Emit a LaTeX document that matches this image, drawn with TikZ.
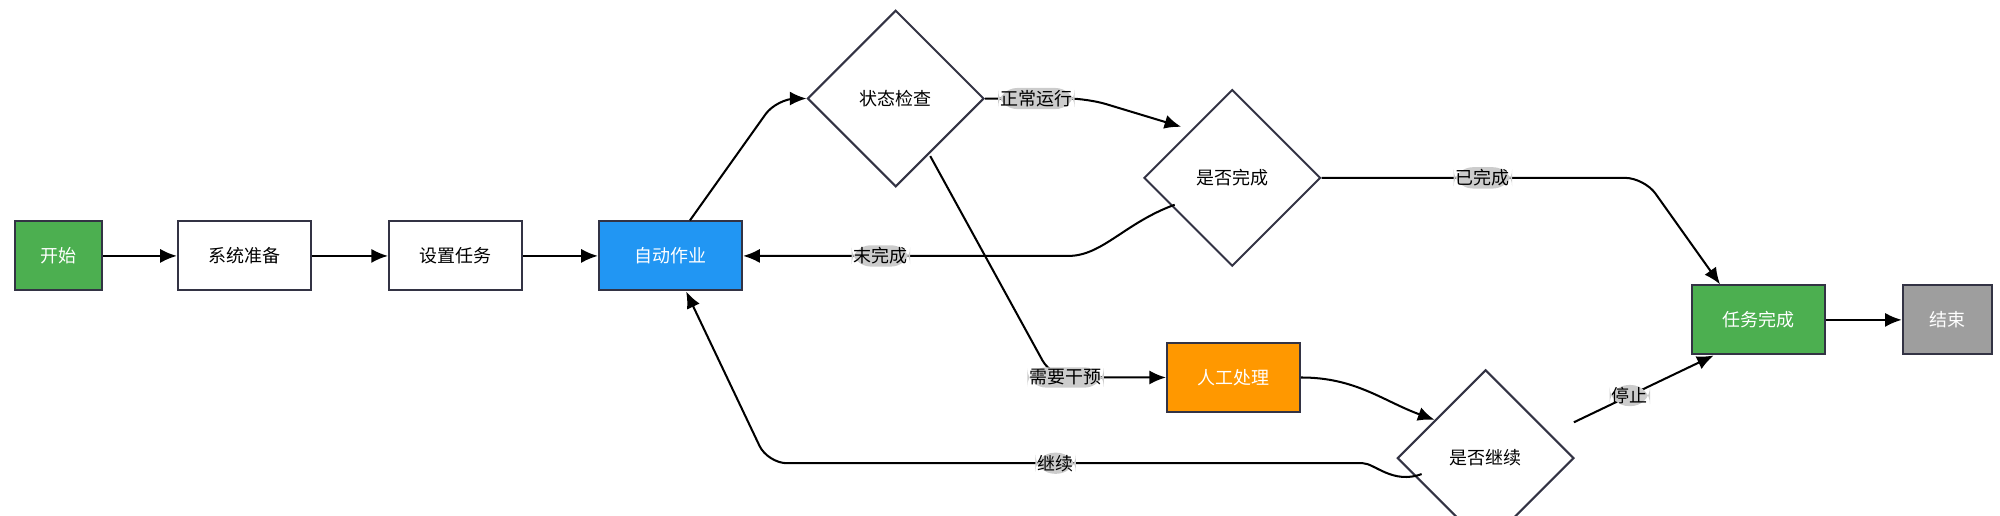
\documentclass[tikz,border=0pt]{standalone}
\usepackage{fontspec}
\setmainfont{Noto Sans CJK SC}
\usetikzlibrary{positioning,arrows.meta,shapes.geometric}

\definecolor{startgreen}{HTML}{4CAF50}
\definecolor{autoblue}{HTML}{2196F3}
\definecolor{manorange}{HTML}{FF9800}
\definecolor{endgrey}{HTML}{9E9E9E}
\definecolor{lblgrey}{HTML}{CCCCCC}
\definecolor{edgecol}{HTML}{333344}

\tikzset{
  box/.style={draw=edgecol, line width=0.9pt, rectangle, minimum height=1.08cm, minimum width=2.08cm, fill=white},
  dec/.style={draw=edgecol, line width=0.9pt, diamond, minimum width=2.76cm, minimum height=2.76cm, inner sep=0pt, fill=white},
  flow/.style={->, line width=0.9pt, rounded corners=0.3cm},
  lbl/.style={fill=lblgrey, inner sep=1pt}
}

\begin{document}
\begin{tikzpicture}[x=0.02cm, y=-0.02cm, >={Latex[length=2.6mm,width=2.2mm]}, font=\fontsize{8}{10}\selectfont]
\useasboundingbox (0,0) rectangle (1563,403);

% Nodes
\node[box, fill=startgreen, text=white, minimum width=1.36cm] (start) at (46,200) {开始};
\node[box] (prep) at (191,200) {系统准备};
\node[box] (task) at (356,200) {设置任务};
\node[box, fill=autoblue, text=white, minimum width=2.24cm] (auto) at (524,200) {自动作业};
\node[dec] (check) at (700,77) {状态检查};
\node[dec] (done) at (963,139) {是否完成};
\node[box, fill=manorange, text=white] (manual) at (964,295) {人工处理};
\node[dec] (cont) at (1161,358) {是否继续};
\node[box, fill=startgreen, text=white] (fin) at (1374,250) {任务完成};
\node[box, fill=endgrey, text=white, minimum width=1.4cm] (stop) at (1522,250) {结束};

% Coordinates for bends
\coordinate (c1) at (607,77);
\coordinate (c2) at (850,77);
\coordinate (c3) at (822,295);
\coordinate (c4) at (1285,139);
\coordinate (c5) at (600,362);
\coordinate (c6) at (820,200);
\coordinate (c8) at (1050,362);

% Arrows
\draw[flow] (start) -- (prep);
\draw[flow] (prep) -- (task);
\draw[flow] (task) -- (auto);
\draw[flow] ([xshift=1.44cm]auto.north west) -- (c1) -- (check.west);
\draw[flow] (check.east) -- (c2) node[lbl, midway] {正常运行} -- ([shift={(-0.1cm,0.1cm)}]done.north west);
\draw[flow] ([shift={(0.54cm,-0.9cm)}]check.center) -- (c3) -- (manual.west) node[lbl, pos=0.12] {需要干预};
\draw[flow] ([shift={(-0.9cm,-0.42cm)}]done.center) to[out=200,in=0] (c6) -- (auto.east) node[lbl, pos=0.55] {末完成};
\draw[flow] (done.east) -- (c4) node[lbl, midway] {已完成} -- ([xshift=0.46cm]fin.north west);
\draw[flow] (manual.east) to[out=0,in=160] ([shift={(-0.1cm,-0.1cm)}]cont.north west);
\draw[flow] ([shift={(1.38cm,0.56cm)}]cont.center) -- node[lbl, pos=0.4] {停止} ([xshift=0.36cm]fin.south west);
\draw[flow] ([shift={(-1.0cm,-0.25cm)}]cont.center) to[out=200,in=0] (c8) -- (c5) node[lbl, pos=0.5] {继续} -- ([xshift=1.38cm]auto.south west);
\draw[flow] (fin) -- (stop);

\end{tikzpicture}
\end{document}
